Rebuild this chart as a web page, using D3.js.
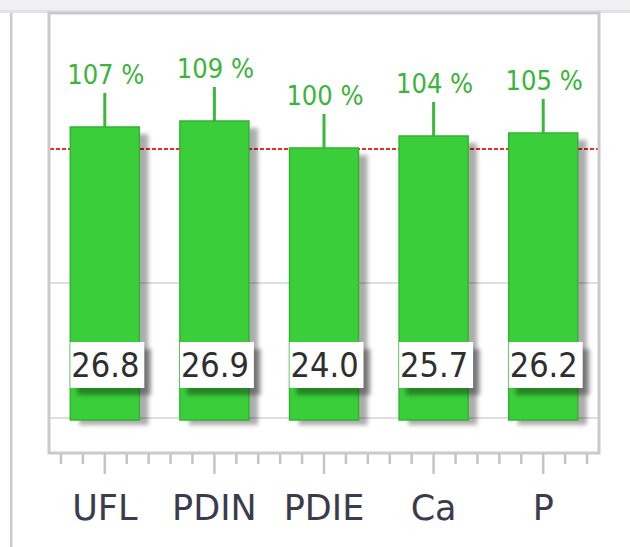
<!DOCTYPE html>
<html>
<head>
<meta charset="utf-8">
<script src="https://cdn.jsdelivr.net/npm/d3@7/dist/d3.min.js"></script>
<style>
  html, body { margin: 0; padding: 0; background: #fff; }
  svg { display: block; }
</style>
</head>
<body>
<svg id="chart" width="630" height="547"></svg>
<script>
// ---- data ----
const categories = ["UFL", "PDIN", "PDIE", "Ca", "P"];
const percentValues = [107, 109, 100, 104, 105];
const boxValues = [26.8, 26.9, 24.0, 25.7, 26.2];
const percentLabels = ["107 %", "109 %", "100 %", "104 %", "105 %"];
const gridValues = [10, 55];
const referenceValue = 100;
const barBase = 10;

// ---- layout ----
const W = 630, H = 547;
const frame = { left: 50, right: 598, top: 13, bottom: 453 };
const svg = d3.select("#chart");

const defs = svg.append("defs");
const f = defs.append("filter").attr("id", "sh").attr("x", "-20%").attr("y", "-20%").attr("width", "150%").attr("height", "150%");
f.append("feGaussianBlur").attr("stdDeviation", 2);

// window chrome
svg.append("rect").attr("x", 0).attr("y", 0).attr("width", W).attr("height", 11).attr("fill", "#f0f0f2");
svg.append("rect").attr("x", 0).attr("y", 10).attr("width", W).attr("height", 3).attr("fill", "#e2e2e6");
svg.append("rect").attr("x", 10).attr("y", 13).attr("width", 2.5).attr("height", H - 13).attr("fill", "#c9ccd3");

// scales
const x = d3.scaleLinear().domain([-0.5, categories.length - 0.5]).range([frame.left, frame.right]);
const y = d3.scaleLinear().domain([0, 145]).range([448, frame.top]);
const barW = 69;

// plot background
svg.append("rect").attr("x", frame.left).attr("y", frame.top)
  .attr("width", frame.right - frame.left).attr("height", frame.bottom - frame.top)
  .attr("fill", "#ffffff");

// gridlines
svg.selectAll(".grid").data(gridValues).join("line")
  .attr("x1", frame.left).attr("x2", frame.right)
  .attr("y1", d => y(d)).attr("y2", d => y(d))
  .attr("stroke", "#d4d4d4").attr("stroke-width", 1.5);

// reference line
svg.append("line")
  .attr("x1", frame.left).attr("x2", frame.right)
  .attr("y1", y(referenceValue) + 1).attr("y2", y(referenceValue) + 1)
  .attr("stroke", "#f02828").attr("stroke-width", 2)
  .attr("stroke-dasharray", "4,2");

// bar shadows
svg.selectAll(".bshadow").data(percentValues).join("rect")
  .attr("x", (d, i) => x(i) - barW / 2 + 9)
  .attr("y", d => y(d) + 7)
  .attr("width", barW)
  .attr("height", d => y(barBase) - y(d))
  .attr("fill", "#000").attr("opacity", 0.32)
  .attr("filter", "url(#sh)");

// whiskers
svg.selectAll(".whisk").data(percentValues).join("line")
  .attr("x1", (d, i) => x(i)).attr("x2", (d, i) => x(i))
  .attr("y1", d => y(d)).attr("y2", d => y(d) - 34)
  .attr("stroke", "#3bb83b").attr("stroke-width", 3);

// bars
svg.selectAll(".bar").data(percentValues).join("rect")
  .attr("x", (d, i) => x(i) - barW / 2)
  .attr("y", d => y(d))
  .attr("width", barW)
  .attr("height", d => y(barBase) - y(d) + 2)
  .attr("fill", "#3ace3a")
  .attr("stroke", "#2fb52f").attr("stroke-width", 1.5);

// percent labels
svg.selectAll(".pct").data(percentLabels).join("text")
  .attr("x", (d, i) => x(i) + 1)
  .attr("y", (d, i) => y(percentValues[i]) - 43)
  .attr("text-anchor", "middle")
  .attr("font-family", "DejaVu Sans Condensed, DejaVu Sans, sans-serif")
  .attr("font-stretch", "condensed")
  .attr("font-size", 27)
  .attr("fill", "#3ab43a")
  .text(d => d);

// value boxes
const boxW = 74, boxH = 46, boxY = 342;
svg.selectAll(".vshadow").data(boxValues).join("rect")
  .attr("x", (d, i) => x(i) - barW / 2 + 7)
  .attr("y", boxY + 7)
  .attr("width", boxW).attr("height", boxH)
  .attr("fill", "#000").attr("opacity", 0.35)
  .attr("filter", "url(#sh)");
svg.selectAll(".vbox").data(boxValues).join("rect")
  .attr("x", (d, i) => x(i) - barW / 2)
  .attr("y", boxY)
  .attr("width", boxW).attr("height", boxH)
  .attr("fill", "#ffffff");
svg.selectAll(".vtext").data(boxValues).join("text")
  .attr("x", (d, i) => x(i) - barW / 2 + 1)
  .attr("y", boxY + 35)
  .attr("font-family", "DejaVu Sans Condensed, DejaVu Sans, sans-serif")
  .attr("font-stretch", "condensed")
  .attr("font-size", 34)
  .attr("fill", "#2e2e2e")
  .text(d => d3.format(".1f")(d));

// frame
svg.append("rect").attr("x", frame.left - 1).attr("y", frame.top)
  .attr("width", frame.right - frame.left + 2).attr("height", frame.bottom - frame.top)
  .attr("fill", "none").attr("stroke", "#cacaca").attr("stroke-width", 3);

// ticks
const minorTicks = d3.range(-2, categories.length * 5 - 2).map(k => k / 5);
svg.selectAll(".tick").data(minorTicks).join("line")
  .attr("x1", d => x(d)).attr("x2", d => x(d))
  .attr("y1", frame.bottom + 1)
  .attr("y2", d => Math.abs(d - Math.round(d)) < 1e-6 ? 474 : 464)
  .attr("stroke", "#c4c4c4").attr("stroke-width", 2.5);

// category labels
svg.selectAll(".cat").data(categories).join("text")
  .attr("x", (d, i) => x(i))
  .attr("y", 520)
  .attr("text-anchor", "middle")
  .attr("font-family", "DejaVu Sans, Verdana, sans-serif")
  .attr("font-size", 35)
  .attr("fill", "#3b3b4d")
  .text(d => d);
</script>
</body>
</html>
